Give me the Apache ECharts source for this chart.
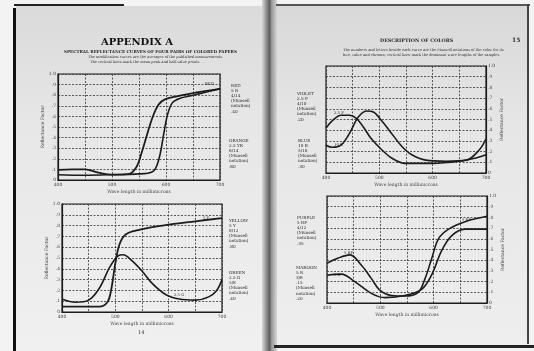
<!DOCTYPE html>
<html>
<head>
<meta charset="utf-8">
<script src="https://cdn.jsdelivr.net/npm/echarts@6/dist/echarts.min.js"></script>
<style>
  html, body { margin: 0; padding: 0; background: #f3f3f3; }
  #main { width: 534px; height: 351px; }
</style>
</head>
<body>
<div id="main"></div>
<script>
// tick labels
const xTickLabels = ['400', '500', '600', '700']
const yTickLabels = ['0', '.1', '.2', '.3', '.4', '.5', '.6', '.7', '.8', '.9', '1.0']

// spectral reflectance curves, [wavelength, reflectance]
// page 14, upper chart
const orangeCurve = [[400, 0.095], [425, 0.10], [450, 0.10], [475, 0.07], [500, 0.05], [530, 0.055], [545, 0.12], [555, 0.26], [565, 0.43], [575, 0.59], [586, 0.71], [598, 0.76], [620, 0.79], [650, 0.82], [675, 0.84], [700, 0.86]]
const redCurve = [[400, 0.05], [450, 0.045], [500, 0.05], [560, 0.06], [578, 0.09], [588, 0.22], [596, 0.44], [603, 0.62], [612, 0.73], [625, 0.77], [650, 0.80], [675, 0.83], [700, 0.86]]
// page 14, lower chart
const yellowCurve = [[400, 0.05], [440, 0.05], [470, 0.05], [485, 0.09], [492, 0.2], [500, 0.45], [508, 0.63], [520, 0.72], [545, 0.76], [575, 0.79], [600, 0.81], [650, 0.84], [700, 0.87]]
const greenCurve = [[400, 0.12], [425, 0.09], [450, 0.11], [470, 0.22], [490, 0.42], [505, 0.52], [515, 0.53], [530, 0.48], [550, 0.38], [570, 0.26], [595, 0.16], [620, 0.12], [650, 0.11], [675, 0.14], [690, 0.2], [700, 0.3]]
// page 15, upper chart
const violetCurve = [[400, 0.42], [412, 0.49], [428, 0.54], [444, 0.54], [457, 0.51], [470, 0.43], [485, 0.32], [504, 0.22], [523, 0.14], [548, 0.09], [600, 0.09], [650, 0.11], [681, 0.14], [700, 0.17]]
const blueCurve = [[400, 0.26], [412, 0.24], [428, 0.26], [444, 0.37], [460, 0.52], [476, 0.58], [489, 0.57], [504, 0.49], [523, 0.37], [542, 0.25], [561, 0.17], [587, 0.12], [625, 0.11], [663, 0.12], [688, 0.22], [700, 0.32]]
// page 15, lower chart
const purpleCurve = [[400, 0.37], [421, 0.42], [443, 0.45], [465, 0.35], [483, 0.23], [499, 0.12], [521, 0.07], [546, 0.065], [571, 0.10], [584, 0.23], [596, 0.41], [609, 0.60], [628, 0.69], [659, 0.76], [700, 0.81]]
const maroonCurve = [[400, 0.26], [427, 0.27], [452, 0.2], [483, 0.09], [509, 0.05], [546, 0.07], [578, 0.13], [596, 0.26], [615, 0.49], [634, 0.63], [659, 0.69], [700, 0.69]]

const ink = '#1c1c1c'
const serif = 'DejaVu Serif'

let grids = [
  { left: 58, top: 74, width: 162, height: 106 },
  { left: 62, top: 204, width: 160, height: 108 },
  { left: 326, top: 66, width: 160, height: 107 },
  { left: 327, top: 196, width: 160, height: 107 }
].map(g => Object.assign(g, { show: true, borderColor: ink, borderWidth: 1.2 }))

let xAxes = grids.map((g, i) => ({
  gridIndex: i,
  type: 'value',
  min: 400,
  max: 700,
  interval: 50,
  name: 'Wave length in millimicrons',
  nameLocation: 'middle',
  nameGap: 9,
  nameTextStyle: { fontSize: 4.5, color: '#444', fontFamily: serif },
  axisLine: { lineStyle: { color: ink, width: 1.2 } },
  axisTick: { show: false },
  axisLabel: {
    fontSize: 4.5,
    color: '#444',
    margin: 2,
    fontFamily: serif,
    formatter: v => xTickLabels.includes(String(v)) ? String(v) : ''
  },
  splitLine: { show: true, lineStyle: { color: '#333', width: 0.8, type: [2, 1.5] } }
}))

let yAxes = grids.map((g, i) => ({
  gridIndex: i,
  type: 'value',
  min: 0,
  max: 1,
  interval: 0.1,
  position: i < 2 ? 'left' : 'right',
  name: 'Reflectance Factor',
  nameLocation: 'middle',
  nameGap: 9,
  nameRotate: 90,
  nameTextStyle: { fontSize: 4.5, color: '#444', fontFamily: serif },
  axisLine: { show: true, lineStyle: { color: ink, width: 1.2 } },
  axisTick: { show: false },
  axisLabel: {
    fontSize: 4.5,
    color: '#444',
    margin: 2,
    fontFamily: serif,
    formatter: v => yTickLabels[Math.round(v * 10)]
  },
  splitLine: { show: true, lineStyle: { color: '#333', width: 0.8, type: [2, 1.5] } }
}))

function curve (name, data, idx, width) {
  return {
    name: name,
    type: 'line',
    xAxisIndex: idx,
    yAxisIndex: idx,
    data: data,
    smooth: 0.35,
    showSymbol: false,
    silent: true,
    lineStyle: { color: ink, width: width || 1.6 }
  }
}

// small text helper for the page printing
function txt (x, y, text, size, opts) {
  return {
    type: 'text',
    left: x,
    top: y,
    silent: true,
    style: Object.assign({
      text: text,
      fontSize: size,
      fontFamily: serif,
      fill: '#2a2a2a',
      lineHeight: size + 1
    }, opts || {})
  }
}

let graphics = [
  // pages
  { type: 'rect', shape: { x: 16, y: 6, width: 250, height: 345 }, style: { fill: { type: 'linear', x: 0, y: 0, x2: 0, y2: 1, colorStops: [{ offset: 0, color: '#dadada' }, { offset: 0.35, color: '#e7e7e7' }, { offset: 1, color: '#f0f0f0' }] } }, z: -10 },
  { type: 'rect', shape: { x: 274, y: 6, width: 254, height: 340 }, style: { fill: { type: 'linear', x: 0, y: 0, x2: 0, y2: 1, colorStops: [{ offset: 0, color: '#d8d8d8' }, { offset: 0.35, color: '#e6e6e6' }, { offset: 1, color: '#eeeeee' }] } }, z: -10 },
  // binding
  { type: 'rect', shape: { x: 262, y: 0, width: 15, height: 351 }, style: { fill: { type: 'linear', x: 0, y: 0, x2: 1, y2: 0, colorStops: [{ offset: 0, color: '#d8d8d8' }, { offset: 0.5, color: '#5e5e5e' }, { offset: 0.65, color: '#9a9a9a' }, { offset: 1, color: '#d6d6d6' }] } }, z: -9 },
  // page edges
  { type: 'rect', shape: { x: 13, y: 8, width: 3, height: 343 }, style: { fill: '#111' }, z: -8 },
  { type: 'rect', shape: { x: 14, y: 4, width: 110, height: 2 }, style: { fill: '#222' }, z: -8 },
  { type: 'rect', shape: { x: 276, y: 4, width: 254, height: 2 }, style: { fill: '#555' }, z: -8 },
  { type: 'rect', shape: { x: 527, y: 4, width: 2, height: 340 }, style: { fill: '#444' }, z: -8 },
  { type: 'rect', shape: { x: 274, y: 345, width: 260, height: 3 }, style: { fill: '#222' }, z: -8 },

  // left page heading
  txt(101, 37, 'APPENDIX A', 10, { fontWeight: 'bold', fill: '#111' }),
  txt(64, 49, 'SPECTRAL REFLECTANCE CURVES OF FOUR PAIRS OF COLORED PAPERS', 4.1, { fontWeight: 'bold' }),
  txt(88, 55, 'The modification curves are the averages of the published measurements.', 3.6),
  txt(90, 60, 'The vertical lines mark the mean peak and half-value points.', 3.6),
  txt(138, 330, '14', 5),

  // right page heading
  txt(380, 38, 'DESCRIPTION OF COLORS', 4.8, { fontWeight: 'bold' }),
  txt(343, 48, 'The numbers and letters beside each curve are the Munsell notations of the color for its', 3.6),
  txt(343, 53, 'hue, value and chroma; vertical lines mark the dominant wave lengths of the samples.', 3.6),
  txt(512, 37, '15', 6, { fontWeight: 'bold' }),

  // colour notes beside the charts
  txt(231, 83, 'RED\n5 R\n4/14\n(Munsell\nnotation)\n.40', 4.2, { align: 'center' }),
  txt(229, 138, 'ORANGE\n2.5 YR\n6/14\n(Munsell\nnotation)\n.60', 4.2, { align: 'center' }),
  txt(229, 218, 'YELLOW\n5 Y\n8/12\n(Munsell\nnotation)\n.80', 4.2, { align: 'center' }),
  txt(229, 270, 'GREEN\n2.5 G\n5/8\n(Munsell\nnotation)\n.40', 4.2, { align: 'center' }),
  txt(297, 91, 'VIOLET\n2.5 P\n4/10\n(Munsell\nnotation)\n.20', 4.2, { align: 'center' }),
  txt(298, 138, 'BLUE\n10 B\n5/10\n(Munsell\nnotation)\n.30', 4.2, { align: 'center' }),
  txt(297, 215, 'PURPLE\n5 RP\n4/12\n(Munsell\nnotation)\n.35', 4.2, { align: 'center' }),
  txt(296, 265, 'MAROON\n5 R\n3/6\n.15\n(Munsell\nnotation)\n.20', 4.2, { align: 'center' }),

  // labels written on the curves
  txt(205, 82, 'RED', 3.8),
  txt(203, 216, '5 Y', 3.8),
  txt(174, 293, '2.5 G', 3.8),
  txt(334, 111, '2.5 P', 3.8),
  txt(334, 143, '10 B', 3.8),
  txt(344, 251, '5 RP', 3.8),
  txt(334, 273, '5 R', 3.8),
  txt(462, 218, '5 RP', 3.8)
]

let myChart = echarts.init(document.getElementById('main'), null, { renderer: 'canvas' })
let option = {
  animation: false,
  backgroundColor: '#f3f3f3',
  grid: grids,
  xAxis: xAxes,
  yAxis: yAxes,
  graphic: graphics,
  series: [
    curve('Orange', orangeCurve, 0, 1.8),
    curve('Red', redCurve, 0, 1.6),
    curve('Yellow', yellowCurve, 1, 1.8),
    curve('Green', greenCurve, 1, 1.6),
    curve('Violet', violetCurve, 2, 1.6),
    curve('Blue', blueCurve, 2, 1.6),
    curve('Purple', purpleCurve, 3, 1.6),
    curve('Maroon', maroonCurve, 3, 1.6)
  ]
}
myChart.setOption(option)
</script>
</body>
</html>
